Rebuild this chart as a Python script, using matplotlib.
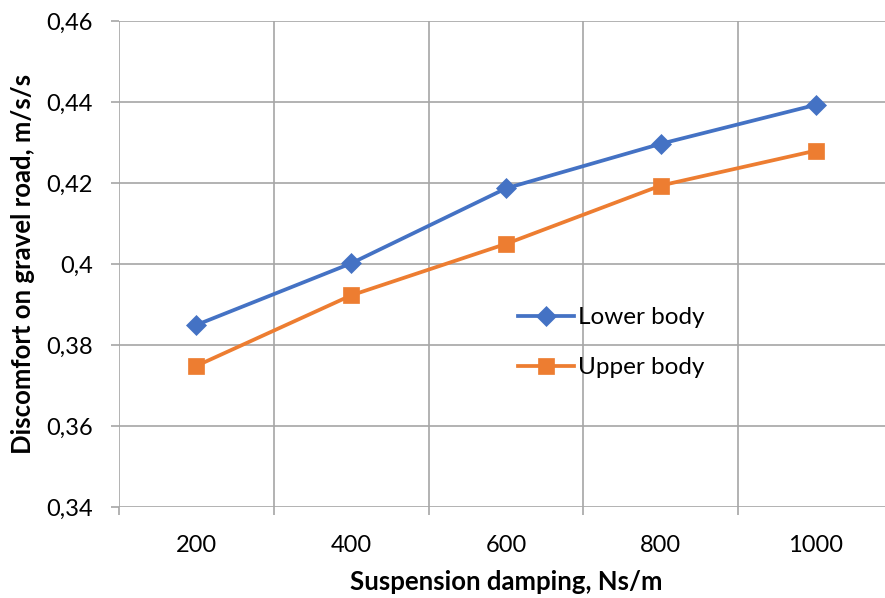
import matplotlib
matplotlib.use("Agg")
from matplotlib import pyplot as plt
from matplotlib.ticker import FixedLocator, FuncFormatter

damping = ["200", "400", "600", "800", "1000"]
lower_body = [0.385, 0.4002, 0.4187, 0.4297, 0.4393]
upper_body = [0.3749, 0.3923, 0.4050, 0.4194, 0.4280]
y_ticks = [0.34, 0.36, 0.38, 0.40, 0.42, 0.44, 0.46]

plt.rcParams['font.family'] = ['Lato', 'DejaVu Sans']
grid_c = '#a6a6a6'

fig = plt.figure(figsize=(8.85, 5.98), dpi=100)
W, H = 885, 598
ax = fig.add_axes([119 / W, 1 - 507.3 / H, (893 - 119) / W, (507.3 - 21) / H])

x = range(len(damping))
ax.plot(x, lower_body, color='#4472C4', lw=2.7, marker='D', ms=10,
        markeredgewidth=0.5, label='Lower body')
ax.plot(x, upper_body, color='#ED7D31', lw=2.7, marker='s', ms=12,
        markeredgewidth=0.5, label='Upper body')

ax.set_xlim(-0.5, len(damping) - 0.5)
ax.set_ylim(0.34, 0.46)
ax.set_xticks(list(x))
ax.set_xticklabels(damping)
ax.xaxis.set_minor_locator(FixedLocator([i - 0.5 for i in range(len(damping) + 1)]))
ax.tick_params(axis='x', which='major', length=0, pad=20, labelsize=17)
ax.tick_params(axis='x', which='minor', length=6, color=grid_c, width=1.2)
ax.grid(True, axis='x', which='minor', color=grid_c, lw=1.2)

ax.yaxis.set_major_locator(FixedLocator(y_ticks))
ax.yaxis.set_major_formatter(FuncFormatter(lambda v, p: f"{v:g}".replace('.', ',')))
ax.tick_params(axis='y', length=6, color=grid_c, width=1.2, pad=13, labelsize=17)
ax.grid(True, axis='y', color=grid_c, lw=1.2)
ax.set_axisbelow(True)

for s in ax.spines.values():
    s.set_visible(False)

ax.set_xlabel('Suspension damping, Ns/m', fontsize=18.5, fontweight='bold', labelpad=10)
ax.set_ylabel('Discomfort on gravel road, m/s/s', fontsize=18.5, fontweight='bold', labelpad=8)

ax.legend(loc='upper left', bbox_to_anchor=(506 / W, 1 - 295 / H),
          bbox_transform=fig.transFigure, frameon=False, fontsize=17.5,
          handlelength=2.3, handletextpad=0.15, labelspacing=1.2,
          borderpad=0)

fig.savefig('out.png', dpi=100)
